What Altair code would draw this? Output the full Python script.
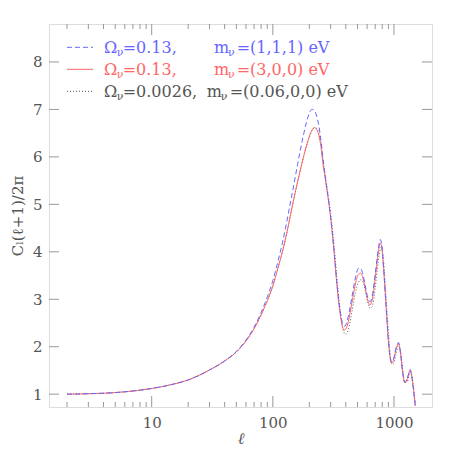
import altair as alt
import pandas as pd

# multipole values
ell = [2, 3, 4, 6, 10, 15, 20, 30, 40, 50, 60, 70, 80, 90, 100, 110, 120, 130, 140, 150,
       160, 170, 180, 190, 200, 210, 220, 230, 240, 250, 260, 270, 280, 290, 300, 320, 340,
       360, 380, 390, 400, 420, 450, 480, 510, 530, 550, 580, 610, 635, 660, 700, 740, 770,
       790, 820, 860, 900, 930, 960, 990, 1040, 1090, 1130, 1180, 1230, 1290, 1360, 1400,
       1450, 1500]

# Omega_nu=0.13, m_nu=(1,1,1) eV  (blue dashed)
cl_111 = [1.00, 1.01, 1.02, 1.05, 1.12, 1.21, 1.30, 1.51, 1.70, 1.90, 2.14, 2.41, 2.72, 3.05,
          3.39, 3.79, 4.19, 4.62, 5.05, 5.45, 5.84, 6.19, 6.49, 6.74, 6.92, 7.00, 6.98, 6.86,
          6.65, 6.33, 5.95, 5.62, 5.32, 5.03, 4.73, 4.03, 3.28, 2.75, 2.46, 2.43, 2.46, 2.64,
          3.05, 3.45, 3.65, 3.65, 3.56, 3.28, 3.02, 2.95, 3.06, 3.53, 4.03, 4.26, 4.17, 3.70,
          2.88, 2.12, 1.78, 1.67, 1.73, 1.97, 2.09, 1.89, 1.46, 1.25, 1.34, 1.52, 1.39, 1.09,
          0.76]

# Omega_nu=0.13, m_nu=(3,0,0) eV  (red solid)
cl_300 = [1.00, 1.01, 1.02, 1.05, 1.12, 1.21, 1.30, 1.51, 1.70, 1.89, 2.12, 2.38, 2.67, 2.97,
          3.28, 3.65, 4.00, 4.38, 4.78, 5.15, 5.47, 5.76, 6.02, 6.24, 6.43, 6.56, 6.62, 6.58,
          6.45, 6.20, 5.83, 5.56, 5.29, 5.02, 4.72, 4.00, 3.22, 2.68, 2.38, 2.35, 2.37, 2.53,
          2.93, 3.32, 3.53, 3.55, 3.48, 3.22, 2.96, 2.88, 2.98, 3.45, 3.95, 4.19, 4.12, 3.65,
          2.85, 2.10, 1.76, 1.65, 1.71, 1.95, 2.07, 1.88, 1.45, 1.24, 1.33, 1.51, 1.38, 1.08,
          0.75]

# Omega_nu=0.0026, m_nu=(0.06,0,0) eV  (black dotted)
cl_006 = [1.00, 1.01, 1.02, 1.05, 1.12, 1.21, 1.30, 1.51, 1.70, 1.89, 2.12, 2.38, 2.67, 2.97,
          3.28, 3.65, 4.00, 4.38, 4.78, 5.15, 5.47, 5.76, 6.02, 6.24, 6.41, 6.55, 6.61, 6.60,
          6.49, 6.27, 5.92, 5.63, 5.36, 5.09, 4.81, 4.14, 3.36, 2.76, 2.36, 2.28, 2.26, 2.36,
          2.74, 3.14, 3.36, 3.41, 3.39, 3.18, 2.92, 2.81, 2.84, 3.24, 3.78, 4.05, 4.10, 3.82,
          3.05, 2.32, 1.85, 1.64, 1.64, 1.85, 2.02, 1.93, 1.52, 1.25, 1.27, 1.47, 1.42, 1.15,
          0.80]

x_major = [10, 100, 1000]
x_minor = [2, 3, 4, 5, 6, 7, 8, 9, 20, 30, 40, 50, 60, 70, 80, 90,
           200, 300, 400, 500, 600, 700, 800, 900]
y_major = [1, 2, 3, 4, 5, 6, 7, 8]

BLUE = "#6666ff"
RED = "#ff6666"
DARK = "#555555"
FRAME = "#999999"
FONT = "DejaVu Serif"
W = H = 383

df = pd.DataFrame({"ell": ell, "c111": cl_111, "c300": cl_300, "c006": cl_006})

xscale = alt.Scale(type="log", domain=[1.42, 2060], nice=False)
yscale = alt.Scale(domain=[0.73, 8.8], nice=False, zero=False)

XAX = alt.Axis(values=x_major, format="d", tickSize=0, domain=False, grid=False,
               labelFont=FONT, labelFontSize=15, labelColor=DARK, labelPadding=8,
               title="ℓ", titleFont=FONT, titleFontSize=16, titleFontStyle="italic",
               titleFontWeight="normal", titleColor=DARK, titlePadding=0)
YAX = alt.Axis(values=y_major, tickSize=0, domain=False, grid=False,
               labelFont=FONT, labelFontSize=15, labelColor=DARK, labelPadding=7,
               title="Cₗ(ℓ+1)/2π", titleFont=FONT, titleFontSize=15,
               titleFontWeight="normal", titleColor=DARK, titlePadding=7)


def curve(field, color, dash):
    kw = dict(color=color, strokeWidth=1, clip=True, interpolate="monotone")
    if dash:
        kw["strokeDash"] = dash
    return alt.Chart(df).mark_line(**kw).encode(
        x=alt.X("ell:Q", scale=xscale, axis=XAX),
        y=alt.Y(field + ":Q", scale=yscale, axis=YAX),
    )


def xticks(vals, length):
    d = pd.DataFrame({"v": vals})
    bot = alt.Chart(d).mark_rule(color=FRAME, strokeWidth=1).encode(
        x=alt.X("v:Q", scale=xscale, axis=XAX), y=alt.value(H), y2=alt.value(H - length))
    top = alt.Chart(d).mark_rule(color=FRAME, strokeWidth=1).encode(
        x=alt.X("v:Q", scale=xscale, axis=XAX), y=alt.value(0), y2=alt.value(length))
    return [bot, top]


def yticks(vals, length):
    d = pd.DataFrame({"v": vals})
    left = alt.Chart(d).mark_rule(color=FRAME, strokeWidth=1).encode(
        y=alt.Y("v:Q", scale=yscale, axis=YAX), x=alt.value(0), x2=alt.value(length))
    right = alt.Chart(d).mark_rule(color=FRAME, strokeWidth=1).encode(
        y=alt.Y("v:Q", scale=yscale, axis=YAX), x=alt.value(W - length), x2=alt.value(W))
    return [left, right]


one = alt.Data(values=[{}])


def txt(x, y, s, color, size=16):
    return alt.Chart(one).mark_text(align="left", baseline="alphabetic", font=FONT,
                                    fontSize=size, color=color).encode(
        x=alt.value(x), y=alt.value(y), text=alt.value(s))


def seg(y, color, dash):
    kw = dict(color=color, strokeWidth=1)
    if dash:
        kw["strokeDash"] = dash
    return alt.Chart(one).mark_rule(**kw).encode(
        x=alt.value(18), x2=alt.value(44), y=alt.value(y))


legend = []
rows = [
    (29.3, BLUE, [5, 3], "=0.13,", 165, 187.7, "=(1,1,1) eV"),
    (51.3, RED, None, "=0.13,", 165, 187.7, "=(3,0,0) eV"),
    (73.3, DARK, [1, 2], "=0.0026,", 157.7, 180.7, "=(0.06,0,0) eV"),
]
for base_y, col, dash, om, mx, eqx, mtxt in rows:
    legend.append(seg(base_y - 6, col, dash))
    legend.append(txt(55, base_y, "Ω", col))
    legend.append(txt(67.7, base_y + 3, "ν", col, 11))
    legend.append(txt(73.7, base_y, om, col))
    legend.append(txt(mx, base_y, "m", col))
    legend.append(txt(mx + 14, base_y + 3, "ν", col, 11))
    legend.append(txt(eqx, base_y, mtxt, col))

layers = (
    xticks(x_major, 11) + xticks(x_minor, 5) + yticks(y_major, 10)
    + [curve("c006", DARK, [1, 2]), curve("c300", RED, None), curve("c111", BLUE, [5, 3])]
    + legend
)

chart = alt.layer(*layers).properties(
    width=W, height=H,
    autosize=alt.AutoSizeParams(type="none"),
    padding={"left": 41, "top": 16, "right": 10, "bottom": 42},
).configure_view(stroke=FRAME, strokeWidth=1).configure(background="white")

chart.save("out.html", embed_options={"renderer": "svg", "actions": False})
